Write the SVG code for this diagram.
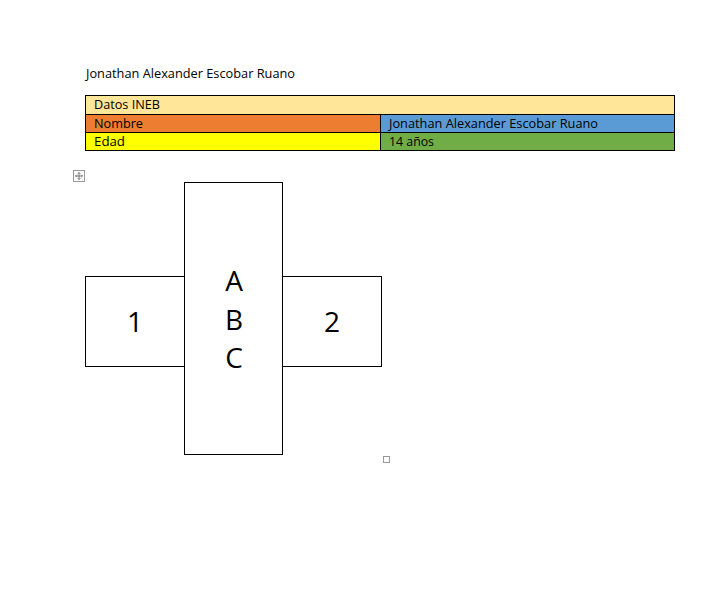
<svg xmlns="http://www.w3.org/2000/svg" width="719" height="592" viewBox="0 0 719 592">
<style>
.t{font-family:"Open Sans","Liberation Sans",Arial,sans-serif;font-size:13px;fill:#000}
.big{font-family:"Open Sans","Liberation Sans",sans-serif;font-size:28px;fill:#000;text-anchor:middle}
.box{fill:#fff;stroke:#000;stroke-width:1}
.cell{stroke:#000;stroke-width:1}
</style>
<rect width="719" height="592" fill="#fff"/>
<text class="t" x="86" y="78" textLength="209" lengthAdjust="spacingAndGlyphs">Jonathan Alexander Escobar Ruano</text>
<g id="table">
<rect class="cell" x="85.5" y="95.5" width="589" height="19" fill="#FFE699"/>
<rect class="cell" x="85.5" y="114.5" width="295" height="18" fill="#ED7D31"/>
<rect class="cell" x="380.5" y="114.5" width="294" height="18" fill="#5B9BD5"/>
<rect class="cell" x="85.5" y="132.5" width="295" height="18" fill="#FFFF00"/>
<rect class="cell" x="380.5" y="132.5" width="294" height="18" fill="#70AD47"/>
<text class="t" x="94" y="109" textLength="66" lengthAdjust="spacingAndGlyphs">Datos INEB</text>
<text class="t" x="94" y="128" textLength="49" lengthAdjust="spacingAndGlyphs">Nombre</text>
<text class="t" x="389" y="128" textLength="209" lengthAdjust="spacingAndGlyphs">Jonathan Alexander Escobar Ruano</text>
<text class="t" x="94" y="146" textLength="31" lengthAdjust="spacingAndGlyphs">Edad</text>
<text class="t" x="389" y="146" textLength="45" lengthAdjust="spacingAndGlyphs">14 años</text>
</g>
<g id="handle">
<rect x="73.5" y="170.5" width="11" height="11" fill="#fff" stroke="#999"/>
<path d="M79 172.5v7M75.5 176h7M77.8 173.7l1.2-1.2 1.2 1.2M77.8 178.3l1.2 1.2 1.2-1.2M76.7 174.8l-1.2 1.2 1.2 1.2M81.3 174.8l1.2 1.2-1.2 1.2" fill="none" stroke="#555" stroke-width="0.8"/>
</g>
<g id="box1">
<rect class="box" x="85.5" y="276.5" width="99" height="90"/>
<text class="big" x="135" y="332">1</text>
</g>
<g id="box2">
<rect class="box" x="282.5" y="276.5" width="99" height="90"/>
<text class="big" x="332" y="332">2</text>
</g>
<g id="boxABC">
<rect class="box" x="184.5" y="182.5" width="98" height="272"/>
<text class="big" x="234" y="291">A</text>
<text class="big" x="234" y="330">B</text>
<text class="big" x="234" y="368">C</text>
</g>
<rect x="383.5" y="456.5" width="6" height="6" fill="#fff" stroke="#999"/>
</svg>
